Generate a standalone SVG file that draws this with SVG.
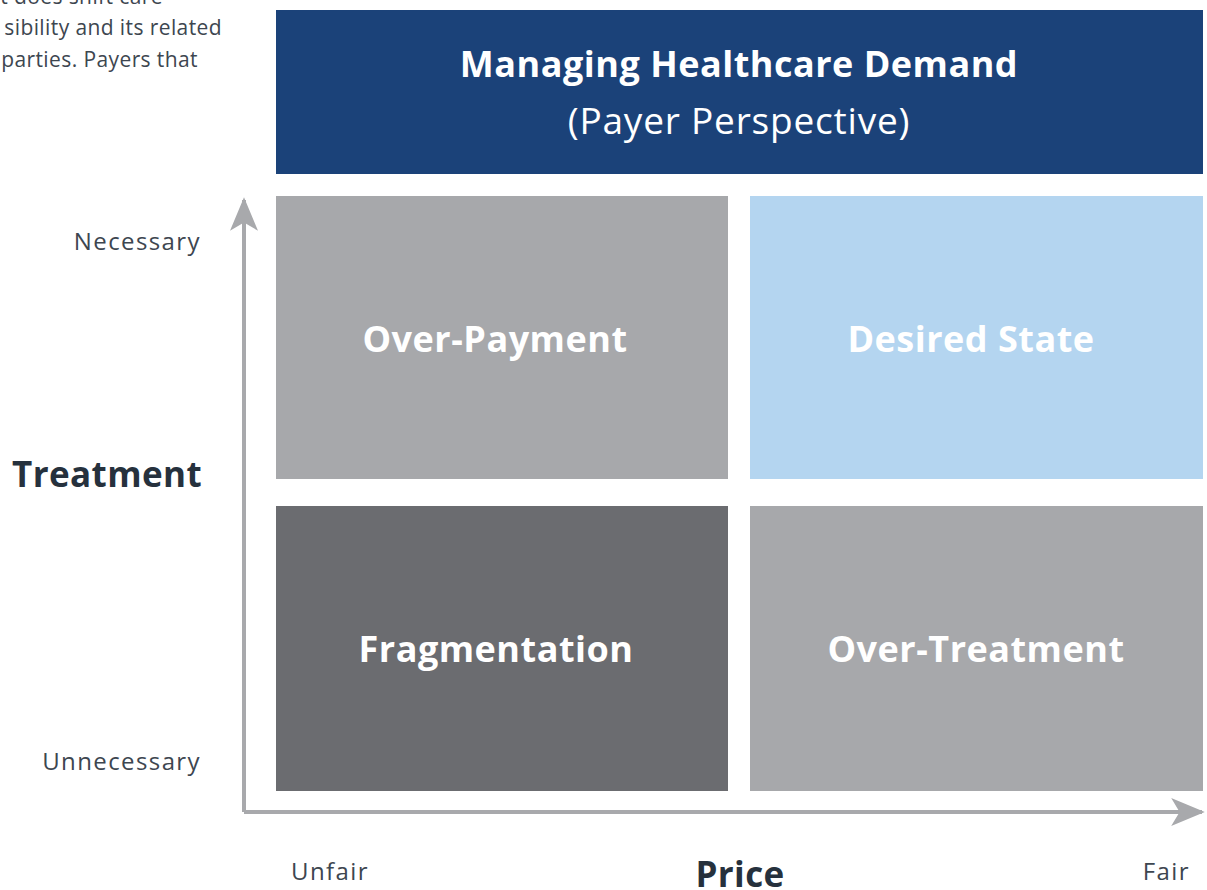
<svg xmlns="http://www.w3.org/2000/svg" width="1207" height="890" viewBox="0 0 1207 890">
<defs>
<style>
.body{font-family:"Open Sans","Noto Sans","Liberation Sans",sans-serif;fill:#3d4650;font-size:21px;letter-spacing:0.4px}
.axis{font-family:"Open Sans","Noto Sans","Liberation Sans",sans-serif;fill:#3d4650;font-size:24px;letter-spacing:1.4px}
.axisb{font-family:"Open Sans","Noto Sans","Liberation Sans",sans-serif;fill:#26313d;font-size:35px;font-weight:bold;letter-spacing:0.4px}
.ql{font-family:"Open Sans","Noto Sans","Liberation Sans",sans-serif;fill:#ffffff;font-size:36px;font-weight:bold;text-anchor:middle;letter-spacing:0.5px}
.hd{font-family:"Open Sans","Noto Sans","Liberation Sans",sans-serif;fill:#ffffff;font-size:36px;text-anchor:middle;letter-spacing:0.5px}
.ax{stroke:#a8a9ac;stroke-width:4;fill:none}
</style>
<marker id="ah" viewBox="0 0 12 10" refX="11" refY="5" markerWidth="9" markerHeight="7" markerUnits="strokeWidth" orient="auto">
<path d="M0,0 L12,5 L0,10 L3,5 Z" fill="#a8a9ac"/>
</marker>
</defs>
<rect width="1207" height="890" fill="#ffffff"/>
<g id="intro-text">
<text class="body" x="163" y="4" text-anchor="end">t does shift care</text>
<text class="body" x="222" y="35" text-anchor="end">sibility and its related</text>
<text class="body" x="198" y="67" text-anchor="end">parties. Payers that</text>
</g>
<g id="header">
<rect x="276" y="10" width="927" height="164" fill="#1b4279"/>
<text class="hd" x="739" y="77" font-weight="bold">Managing Healthcare Demand</text>
<text class="hd" x="739" y="134" style="font-size:37px;letter-spacing:0.8px">(Payer Perspective)</text>
</g>
<g id="q-over-payment">
<rect x="276" y="196" width="452" height="283" fill="#a7a8ab"/>
<text class="ql" x="495" y="352">Over-Payment</text>
</g>
<g id="q-desired-state">
<rect x="750" y="196" width="453" height="283" fill="#b4d5f0"/>
<text class="ql" x="971" y="352">Desired State</text>
</g>
<g id="q-fragmentation">
<rect x="276" y="506" width="452" height="285" fill="#6b6c70"/>
<text class="ql" x="496" y="662">Fragmentation</text>
</g>
<g id="q-over-treatment">
<rect x="750" y="506" width="453" height="285" fill="#a7a8ab"/>
<text class="ql" x="976" y="662">Over-Treatment</text>
</g>
<g id="connectors">
<path class="ax" d="M244,812 L244,200" marker-end="url(#ah)"/>
<path class="ax" d="M244,812 L1202,812" marker-end="url(#ah)"/>
</g>
<g id="axis-labels">
<text class="axis" x="201" y="250" text-anchor="end">Necessary</text>
<text class="axisb" x="202" y="487" text-anchor="end">Treatment</text>
<text class="axis" x="201" y="770" text-anchor="end">Unnecessary</text>
<text class="axis" x="291" y="880">Unfair</text>
<text class="axisb" x="740" y="887" text-anchor="middle">Price</text>
<text class="axis" x="1190" y="880" text-anchor="end">Fair</text>
</g>
</svg>
